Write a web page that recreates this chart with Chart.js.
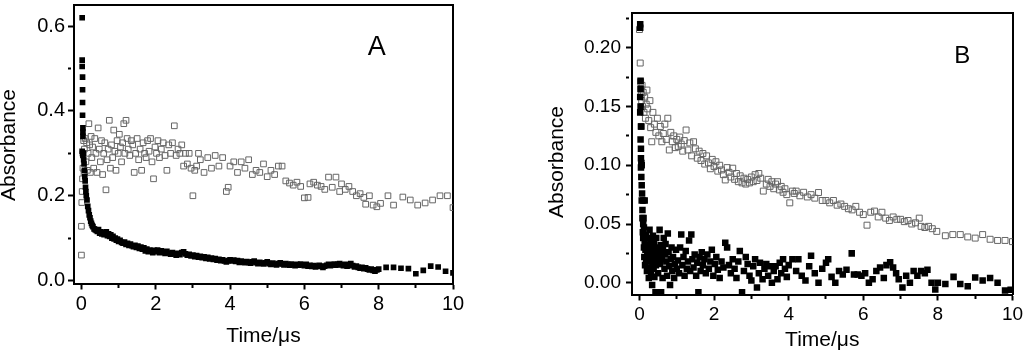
<!DOCTYPE html>
<html>
<head>
<meta charset="utf-8">
<script src="https://cdn.jsdelivr.net/npm/chart.js@4.4.1/dist/chart.umd.min.js"></script>
<style>
  html, body { margin: 0; padding: 0; background: #fff; overflow: hidden; }
  #wrapA { position: absolute; left: 0; top: 0; }
  #wrapB { position: absolute; left: 530px; top: 0; }
</style>
</head>
<body>
<div id="wrapA"><canvas id="chartA" width="470" height="351"></canvas></div>
<div id="wrapB"><canvas id="chartB" width="494" height="351"></canvas></div>
<script>
// Panel A, filled squares: [time (µs), absorbance]
const panelA_filled = [
  [0.02,0.62],[0.02,0.52],[0.02,0.505],[0.03,0.48],[0.03,0.45],[0.03,0.42],[0.03,0.39],[0.04,0.36],[0.04,0.35],[0.04,0.34],
  [0.02,0.305],[0.03,0.30],[0.04,0.295],[0.05,0.30],[0.06,0.285],[0.07,0.275],[0.08,0.26],[0.09,0.245],[0.10,0.235],[0.11,0.22],
  [0.12,0.21],[0.13,0.20],[0.15,0.19],[0.17,0.175],[0.19,0.165],[0.21,0.155],[0.23,0.148],[0.25,0.14],[0.27,0.135],[0.29,0.13],
  [0.31,0.127],[0.34,0.122],[0.37,0.12],[0.40,0.118],[0.43,0.116],[0.46,0.12],[0.49,0.112],[0.52,0.115],[0.55,0.11],[0.58,0.113],
  [0.61,0.108],[0.64,0.112],[0.67,0.115],[0.70,0.106],[0.73,0.11],[0.76,0.104],[0.79,0.108],[0.82,0.1],[0.85,0.104],[0.88,0.098],
  [0.91,0.1],[0.94,0.095],[0.97,0.098],[1.0,0.092],[1.04,0.095],[1.08,0.09],[1.12,0.088],[1.16,0.091],[1.2,0.085],[1.24,0.088],
  [1.28,0.083],[1.32,0.086],[1.36,0.082],[1.40,0.08],[1.44,0.083],[1.48,0.078],[1.52,0.081],[1.56,0.076],[1.60,0.079],[1.64,0.074],
  [1.68,0.077],[1.72,0.07],[1.76,0.074],[1.80,0.068],[1.84,0.072],[1.88,0.069],[1.92,0.066],[1.96,0.071],[2.0,0.068],[2.05,0.072],
  [2.1,0.066],[2.15,0.07],[2.2,0.067],[2.25,0.064],[2.3,0.069],[2.35,0.065],[2.4,0.062],[2.45,0.066],[2.5,0.063],[2.55,0.06],
  [2.6,0.064],[2.65,0.061],[2.7,0.066],[2.75,0.068],[2.8,0.063],[2.85,0.06],[2.9,0.062],[2.95,0.058],[3.0,0.06],[3.05,0.056],
  [3.1,0.059],[3.15,0.055],[3.2,0.057],[3.25,0.054],[3.3,0.056],[3.35,0.052],[3.4,0.055],[3.45,0.051],[3.5,0.053],[3.55,0.05],
  [3.6,0.052],[3.65,0.048],[3.7,0.05],[3.75,0.047],[3.8,0.049],[3.85,0.046],[3.9,0.044],[3.95,0.047],[4.0,0.049],[4.05,0.046],
  [4.1,0.048],[4.15,0.045],[4.2,0.047],[4.25,0.043],[4.3,0.046],[4.35,0.044],[4.4,0.042],[4.45,0.045],[4.5,0.043],[4.55,0.041],
  [4.6,0.044],[4.65,0.046],[4.7,0.042],[4.75,0.04],[4.8,0.043],[4.85,0.041],[4.9,0.039],[4.95,0.042],[5.0,0.044],[5.05,0.04],
  [5.1,0.038],[5.15,0.041],[5.2,0.039],[5.25,0.037],[5.3,0.04],[5.35,0.042],[5.4,0.039],[5.45,0.037],[5.5,0.04],[5.55,0.038],
  [5.6,0.036],[5.65,0.039],[5.7,0.037],[5.75,0.035],[5.8,0.038],[5.85,0.036],[5.9,0.039],[5.95,0.037],[6.0,0.035],[6.05,0.038],
  [6.1,0.034],[6.15,0.036],[6.2,0.033],[6.25,0.035],[6.3,0.032],[6.35,0.034],[6.4,0.036],[6.45,0.033],[6.5,0.031],[6.55,0.034],
  [6.6,0.036],[6.65,0.038],[6.7,0.035],[6.75,0.037],[6.8,0.039],[6.85,0.036],[6.9,0.038],[6.95,0.04],[7.0,0.037],[7.05,0.035],
  [7.1,0.038],[7.15,0.034],[7.2,0.036],[7.25,0.04],[7.3,0.035],[7.35,0.032],[7.4,0.034],[7.45,0.031],[7.5,0.029],[7.55,0.031],
  [7.6,0.028],[7.65,0.03],[7.7,0.027],[7.75,0.025],[7.8,0.027],[7.85,0.024],[7.9,0.022],[7.95,0.025],[8.0,0.027],
  [8.2,0.031],[8.4,0.031],[8.6,0.029],[8.8,0.028],[9.0,0.016],[9.2,0.024],[9.4,0.034],[9.6,0.032],[9.8,0.022],[10.0,0.018]
];

// Panel A, open squares
const panelA_open = [
  [0.0,0.06],[0.0,0.128],[0.01,0.184],[0.02,0.21],[0.03,0.24],[0.04,0.265],[0.05,0.3],[0.06,0.33],[0.07,0.255],[0.08,0.31],
  [0.1,0.335],[0.12,0.28],[0.14,0.325],[0.16,0.26],[0.18,0.3],[0.2,0.37],[0.22,0.32],[0.24,0.255],[0.26,0.34],[0.28,0.29],
  [0.3,0.315],[0.33,0.265],[0.36,0.335],[0.39,0.3],[0.42,0.255],[0.45,0.36],[0.48,0.31],[0.51,0.28],[0.54,0.33],[0.57,0.25],
  [0.6,0.3],[0.63,0.325],[0.66,0.214],[0.69,0.285],[0.72,0.31],[0.75,0.378],[0.78,0.265],[0.81,0.32],[0.84,0.29],[0.87,0.355],
  [0.9,0.305],[0.93,0.26],[0.96,0.33],[0.99,0.3],[1.02,0.345],[1.05,0.315],[1.08,0.28],[1.11,0.325],[1.14,0.37],[1.17,0.3],
  [1.2,0.378],[1.23,0.335],[1.26,0.31],[1.3,0.295],[1.34,0.33],[1.38,0.32],[1.42,0.255],[1.46,0.3],[1.5,0.335],[1.54,0.285],
  [1.58,0.31],[1.62,0.26],[1.66,0.325],[1.7,0.3],[1.74,0.29],[1.78,0.33],[1.82,0.305],[1.86,0.335],[1.9,0.28],[1.94,0.24],
  [1.98,0.315],[2.02,0.3],[2.06,0.33],[2.1,0.29],[2.15,0.31],[2.2,0.325],[2.25,0.295],[2.3,0.26],[2.35,0.32],[2.4,0.3],
  [2.45,0.325],[2.5,0.365],[2.55,0.295],[2.6,0.31],[2.65,0.3],[2.7,0.32],[2.75,0.27],[2.8,0.3],[2.85,0.275],[2.9,0.3],
  [2.95,0.265],[3.0,0.2],[3.05,0.26],[3.1,0.27],[3.15,0.3],[3.2,0.285],[3.3,0.255],[3.4,0.29],[3.5,0.265],[3.6,0.295],
  [3.7,0.27],[3.8,0.29],[3.9,0.21],[3.95,0.22],[4.0,0.27],[4.1,0.28],[4.2,0.255],[4.3,0.28],[4.4,0.265],[4.5,0.285],
  [4.6,0.25],[4.7,0.26],[4.8,0.255],[4.9,0.275],[5.0,0.245],[5.1,0.26],[5.2,0.25],[5.3,0.27],[5.4,0.27],[5.5,0.235],
  [5.6,0.23],[5.7,0.225],[5.8,0.232],[5.9,0.222],[6.0,0.195],[6.1,0.196],[6.15,0.228],[6.25,0.232],[6.35,0.225],[6.45,0.222],
  [6.55,0.215],[6.65,0.244],[6.75,0.22],[6.85,0.244],[6.95,0.21],[7.0,0.228],[7.1,0.215],[7.2,0.222],[7.3,0.21],[7.4,0.2],
  [7.5,0.205],[7.6,0.196],[7.65,0.18],[7.75,0.2],[7.85,0.178],[7.95,0.174],[8.05,0.182],[8.25,0.2],[8.4,0.178],[8.65,0.197],
  [8.85,0.19],[9.05,0.178],[9.25,0.183],[9.45,0.19],[9.65,0.2],[9.85,0.2],[10.0,0.172]
];

// Panel B, filled squares
const panelB_filled = [
  [0.02,0.22],[0.02,0.217],[0.03,0.172],[0.03,0.165],[0.02,0.158],[0.03,0.15],[0.02,0.145],[0.04,0.133],[0.05,0.133],[0.03,0.122],
  [0.04,0.114],[0.04,0.106],[0.05,0.102],[0.04,0.098],[0.06,0.1],[0.05,0.09],[0.06,0.083],[0.07,0.076],[0.06,0.07],[0.1,0.07],
  [0.14,0.07],[0.08,0.062],[0.08,0.055],[0.11,0.055],[0.1,0.05],[0.12,0.047],[0.09,0.043],
  [0.1,0.038],[0.12,0.03],[0.13,0.022],[0.14,0.035],[0.15,0.015],[0.16,0.028],[0.17,0.041],[0.18,0.02],[0.19,0.032],[0.2,0.01],
  [0.21,0.025],[0.22,0.038],[0.23,0.018],[0.24,0.03],[0.25,0.004],[0.26,0.022],[0.27,0.045],[0.28,0.013],[0.29,0.027],[0.3,0.035],
  [0.31,0.008],[0.32,0.02],[0.33,0.03],[0.34,-0.002],[0.35,0.017],[0.36,0.04],[0.37,0.025],[0.38,0.012],[0.39,0.033],[0.4,0.005],
  [0.41,0.022],[0.42,0.028],[0.43,-0.008],[0.44,0.015],[0.45,0.038],[0.47,0.02],[0.49,0.03],[0.5,0.008],[0.52,0.025],[0.54,0.045],
  [0.55,0.016],[0.57,0.032],[0.58,-0.008],[0.6,0.02],[0.62,0.004],[0.63,0.028],[0.65,0.038],[0.67,0.012],[0.69,0.024],[0.7,0.033],
  [0.72,0.018],[0.74,0.006],[0.76,0.042],[0.78,0.026],[0.8,0.014],[0.82,-0.002],[0.84,0.02],[0.86,0.03],[0.88,0.01],[0.9,0.022],
  [0.93,0.004],[0.95,0.016],[0.98,0.028],[1.0,0.012],[1.03,0.019],[1.06,0.008],[1.09,0.03],[1.12,0.041],[1.15,0.015],[1.18,0.022],
  [1.21,0.006],[1.24,0.027],[1.27,0.012],[1.3,0.018],[1.33,0.036],[1.36,0.01],[1.39,0.041],[1.42,0.02],[1.45,0.013],[1.48,0.024],
  [1.52,0.006],[1.55,0.017],[1.58,-0.008],[1.61,0.022],[1.64,0.01],[1.67,0.026],[1.7,0.015],[1.74,0.02],[1.78,0.008],[1.82,0.024],
  [1.86,0.012],[1.9,0.018],[1.94,0.028],[1.98,0.006],[2.02,0.016],[2.06,0.022],[2.1,0.011],[2.15,0.004],[2.2,0.018],[2.25,0.013],
  [2.3,0.034],[2.35,0.03],[2.4,0.015],[2.45,0.008],[2.5,0.02],[2.55,0.012],[2.6,0.004],[2.65,0.018],[2.69,0.027],[2.75,-0.008],
  [2.8,0.01],[2.85,0.022],[2.9,0.016],[2.95,0.006],[3.0,0.002],[3.05,0.014],[3.1,0.02],[3.15,-0.004],[3.2,0.008],[3.23,0.017],
  [3.3,0.003],[3.35,0.012],[3.4,0.016],[3.45,0.006],[3.5,0.014],[3.55,0.0],[3.6,0.01],[3.65,0.014],[3.7,0.003],[3.76,0.017],
  [3.8,0.008],[3.85,0.02],[3.9,0.012],[3.95,0.005],[4.0,0.015],[4.1,0.02],[4.2,0.01],[4.26,0.02],[4.35,0.006],[4.45,0.002],
  [4.55,0.014],[4.6,0.023],[4.7,0.008],[4.8,0.0],[4.9,0.012],[5.0,0.017],[5.06,0.02],[5.15,0.005],[5.25,0.0],[5.35,0.01],
  [5.45,0.007],[5.55,0.011],[5.69,0.025],[5.75,0.007],[5.85,0.007],[5.95,0.006],[6.05,0.008],[6.15,0.0],[6.25,0.003],[6.35,0.01],
  [6.45,0.013],[6.55,0.004],[6.62,0.015],[6.72,0.0175],[6.8,0.013],[6.88,0.008],[6.95,0.003],[7.05,-0.004],[7.15,0.006],[7.25,0.0],
  [7.35,0.01],[7.45,0.006],[7.55,0.01],[7.65,0.008],[7.72,0.011],[7.83,0.0],[7.93,-0.0057],[8.0,0.0],[8.2,-0.001],[8.42,0.005],
  [8.6,-0.001],[8.8,-0.003],[9.0,0.0045],[9.2,0.002],[9.4,0.004],[9.6,0.0],[9.8,-0.0066],[9.95,-0.006]
];

// Panel B, open squares
const panelB_open = [
  [0.0,0.2155],[0.02,0.187],[0.03,0.171],[0.04,0.165],[0.05,0.16],[0.06,0.155],[0.07,0.168],[0.08,0.15],[0.1,0.162],[0.12,0.145],
  [0.14,0.158],[0.16,0.14],[0.18,0.152],[0.2,0.164],[0.22,0.148],[0.25,0.138],[0.28,0.155],[0.3,0.132],[0.33,0.12],[0.36,0.145],
  [0.4,0.135],[0.44,0.128],[0.48,0.14],[0.52,0.125],[0.56,0.133],[0.6,0.12],[0.64,0.127],[0.68,0.135],[0.72,0.122],[0.76,0.14],
  [0.8,0.113],[0.84,0.128],[0.88,0.12],[0.92,0.125],[0.96,0.115],[1.0,0.122],[1.04,0.116],[1.08,0.124],[1.12,0.118],[1.16,0.112],
  [1.2,0.121],[1.25,0.13],[1.3,0.113],[1.35,0.119],[1.4,0.108],[1.45,0.12],[1.5,0.114],[1.55,0.106],[1.6,0.112],[1.65,0.104],
  [1.7,0.11],[1.75,0.101],[1.8,0.108],[1.85,0.102],[1.9,0.097],[1.95,0.105],[2.0,0.099],[2.05,0.103],[2.1,0.095],[2.15,0.1],
  [2.2,0.096],[2.25,0.092],[2.3,0.0875],[2.35,0.098],[2.4,0.094],[2.45,0.09],[2.5,0.0975],[2.55,0.088],[2.6,0.093],[2.65,0.086],
  [2.7,0.091],[2.75,0.085],[2.8,0.089],[2.85,0.084],[2.9,0.088],[2.95,0.085],[3.0,0.09],[3.05,0.086],[3.1,0.092],[3.15,0.087],
  [3.2,0.093],[3.25,0.089],[3.32,0.078],[3.4,0.084],[3.45,0.088],[3.5,0.082],[3.55,0.086],[3.6,0.08],[3.65,0.084],[3.7,0.086],
  [3.75,0.079],[3.8,0.082],[3.85,0.077],[3.9,0.08],[3.95,0.075],[4.03,0.068],[4.1,0.078],[4.15,0.076],[4.2,0.078],[4.3,0.074],
  [4.4,0.077],[4.5,0.073],[4.6,0.075],[4.7,0.072],[4.8,0.0768],[4.9,0.07],[5.0,0.07],[5.1,0.068],[5.2,0.07],[5.3,0.066],
  [5.4,0.067],[5.5,0.065],[5.6,0.063],[5.7,0.062],[5.8,0.065],[5.9,0.06],[6.0,0.058],[6.1,0.049],[6.2,0.06],[6.3,0.061],
  [6.4,0.056],[6.5,0.06],[6.6,0.055],[6.7,0.053],[6.8,0.056],[6.9,0.054],[7.0,0.054],[7.1,0.052],[7.2,0.053],[7.3,0.05],
  [7.4,0.051],[7.5,0.055],[7.55,0.048],[7.65,0.047],[7.75,0.048],[7.85,0.046],[7.97,0.0437],[8.2,0.04],[8.4,0.041],[8.6,0.041],
  [8.8,0.039],[9.0,0.038],[9.2,0.041],[9.4,0.037],[9.6,0.036],[9.8,0.036],[10.0,0.035]
];

const FONT = '"Liberation Sans", Arial, sans-serif';

// axis titles and panel letter
const textPlugin = {
  id: 'panelText',
  afterDraw(chart, args, opts) {
    const ctx = chart.ctx;
    const a = chart.chartArea;
    ctx.save();
    ctx.fillStyle = '#000';
    ctx.font = '21px ' + FONT;
    ctx.textAlign = 'center';
    ctx.textBaseline = 'alphabetic';
    ctx.fillText('Time/\u03bcs', (a.left + a.right) / 2, opts.xTitleBase);

    ctx.save();
    ctx.translate(opts.yTitleX, opts.yTitleY);
    ctx.rotate(-Math.PI / 2);
    ctx.textBaseline = 'middle';
    ctx.fillText('Absorbance', 0, 0);
    ctx.restore();

    ctx.font = opts.letterSize + 'px ' + FONT;
    ctx.textBaseline = 'middle';
    ctx.fillText(opts.letter, chart.scales.x.getPixelForValue(opts.letterAt[0]),
                 chart.scales.y.getPixelForValue(opts.letterAt[1]));
    ctx.restore();
  }
};

// outward ticks; minor ticks are cut short with a dash
function axisGrid(isMajor) {
  return {
    display: true,
    color: 'rgba(0,0,0,0)',
    drawOnChartArea: false,
    drawTicks: true,
    tickLength: 6,
    tickWidth: 2,
    tickColor: '#000',
    tickBorderDash: c => (c.tick && !isMajor(c.tick.value)) ? [3, 40] : []
  };
}

function makePanel(canvasId, filled, open, cfg) {
  const isMajorX = v => Math.round(v) % 2 === 0;
  const isMajorY = v => Math.abs(v / cfg.yMajor - Math.round(v / cfg.yMajor)) < 1e-6;
  const frameSide = { display: true, width: 2, color: '#000' };
  return new Chart(document.getElementById(canvasId), {
    type: 'scatter',
    data: {
      datasets: [
        {
          data: filled.map(p => ({ x: p[0], y: p[1] })),
          pointStyle: 'rect',
          pointRadius: cfg.filledRadius,
          backgroundColor: '#000',
          borderColor: '#000',
          borderWidth: 0
        },
        {
          data: open.map(p => ({ x: p[0], y: p[1] })),
          pointStyle: 'rect',
          pointRadius: cfg.openRadius,
          backgroundColor: 'rgba(0,0,0,0)',
          borderColor: '#666',
          borderWidth: 1
        }
      ]
    },
    options: {
      responsive: false,
      animation: false,
      devicePixelRatio: 1,
      layout: { padding: { left: 0, top: cfg.top, right: cfg.right, bottom: 0 } },
      plugins: {
        legend: { display: false },
        tooltip: { enabled: false },
        panelText: cfg.text
      },
      scales: {
        x: {
          type: 'linear',
          position: 'bottom',
          min: -0.2,
          max: 10,
          grid: axisGrid(isMajorX),
          border: frameSide,
          ticks: {
            stepSize: 1,
            autoSkip: false,
            maxRotation: 0,
            includeBounds: false,
            padding: cfg.xPad,
            color: '#000',
            font: { family: FONT, size: cfg.tickSize },
            callback: v => isMajorX(v) ? String(Math.round(v)) : ''
          },
          afterFit: s => { s.height = cfg.xAxisHeight; s.paddingLeft = 0; s.paddingRight = 0; }
        },
        y: {
          type: 'linear',
          position: 'left',
          min: cfg.yMin,
          max: cfg.yMax,
          grid: axisGrid(isMajorY),
          border: frameSide,
          ticks: {
            stepSize: cfg.yMinor,
            autoSkip: false,
            includeBounds: false,
            padding: cfg.yPad,
            color: '#000',
            font: { family: FONT, size: cfg.tickSize },
            callback: v => isMajorY(v) ? v.toFixed(cfg.yDigits) : ''
          },
          afterFit: s => { s.width = cfg.yAxisWidth; s.paddingTop = 0; s.paddingBottom = 0; }
        },
        xTop: {
          type: 'linear',
          axis: 'x',
          position: 'top',
          min: -0.2,
          max: 10,
          grid: { display: false, drawTicks: false },
          ticks: { display: false },
          border: frameSide,
          afterFit: s => { s.height = 0; s.paddingLeft = 0; s.paddingRight = 0; }
        },
        yRight: {
          type: 'linear',
          axis: 'y',
          position: 'right',
          min: cfg.yMin,
          max: cfg.yMax,
          grid: { display: false, drawTicks: false },
          ticks: { display: false },
          border: frameSide,
          afterFit: s => { s.width = 0; s.paddingTop = 0; s.paddingBottom = 0; }
        }
      }
    },
    plugins: [textPlugin]
  });
}

makePanel('chartA', panelA_filled, panelA_open, {
  top: 1.3, right: 17, xAxisHeight: 67.5, yAxisWidth: 74,
  yMin: -0.007, yMax: 0.65, yMinor: 0.1, yMajor: 0.2, yDigits: 1,
  xPad: 3, yPad: 3, tickSize: 20,
  filledRadius: 4, openRadius: 4,
  text: { xTitleBase: 342, yTitleX: 9, yTitleY: 145, letter: 'A', letterSize: 27, letterAt: [7.95, 0.55] }
});

makePanel('chartB', panelB_filled, panelB_open, {
  top: 12.5, right: 11.5, xAxisHeight: 56.5, yAxisWidth: 102,
  yMin: -0.01, yMax: 0.23, yMinor: 0.025, yMajor: 0.05, yDigits: 2,
  xPad: 3, yPad: 5, tickSize: 19,
  filledRadius: 4.6, openRadius: 4.2,
  text: { xTitleBase: 346, yTitleX: 27, yTitleY: 162, letter: 'B', letterSize: 24, letterAt: [8.65, 0.193] }
});
</script>
</body>
</html>
